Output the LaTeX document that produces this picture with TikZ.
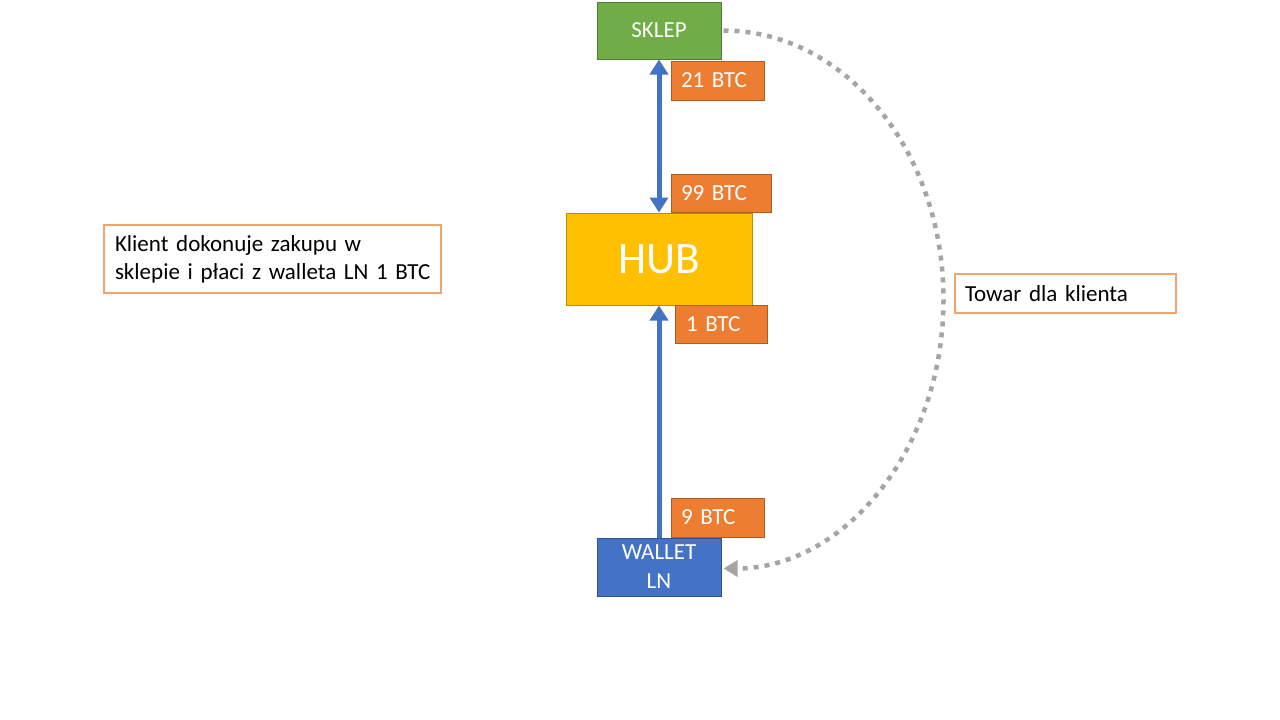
\documentclass[tikz,border=0pt]{standalone}
\usepackage{fontspec}
\setmainfont{Carlito}
\usetikzlibrary{arrows.meta}
\definecolor{cgreen}{HTML}{70AD47}
\definecolor{cgreend}{HTML}{507E32}
\definecolor{corange}{HTML}{ED7D31}
\definecolor{corangedk}{HTML}{AE5A21}
\definecolor{cyellow}{HTML}{FFC000}
\definecolor{cyellowd}{HTML}{BC8C00}
\definecolor{cblue}{HTML}{4472C4}
\definecolor{cblued}{HTML}{2F528F}
\definecolor{cgrey}{HTML}{A5A5A5}
\tikzset{
  mainbox/.style={draw=#1, line width=1pt, rectangle, inner sep=0pt, text=white, align=center},
  btcbox/.style={draw=corangedk, fill=corange, line width=1pt, rectangle, inner sep=0pt,
    text=white, align=left, font=\fontsize{23}{27}\selectfont},
  notebox/.style={draw=corange!70, fill=white, line width=1.3pt, rectangle, inner sep=0pt,
    text=black, align=left, font=\fontsize{23}{28}\selectfont},
  flow/.style={draw=cblue, line width=5pt},
  dotconn/.style={draw=cgrey, line width=4.5pt, dash pattern=on 5pt off 6pt}
}
\begin{document}
\begin{tikzpicture}[x=1pt,y=-1pt]
\useasboundingbox[fill=white] (0,0) rectangle (1280,720);

\node[mainbox=cgreend, fill=cgreen, minimum width=124pt, minimum height=57pt,
  font=\fontsize{23}{27}\selectfont] (sklep) at (659,30.5) {SKLEP};
\node[mainbox=cyellowd, fill=cyellow, minimum width=186pt, minimum height=92pt,
  font=\fontsize{45}{50}\selectfont] (hub) at (659,259) {HUB};
\node[mainbox=cblued, fill=cblue, minimum width=124pt, minimum height=58pt,
  font=\fontsize{23}{29}\selectfont] (wallet) at (659,567) {WALLET\\LN};

\node[btcbox, minimum width=93pt, minimum height=39pt, text width=73pt] (b21) at (717.5,80.5) {21 BTC};
\node[btcbox, minimum width=100pt, minimum height=38pt, text width=80pt] (b99) at (721,193) {99 BTC};
\node[btcbox, minimum width=92pt, minimum height=38pt, text width=70pt] (b1) at (721,324) {1 BTC};
\node[btcbox, minimum width=93pt, minimum height=39pt, text width=73pt] (b9) at (717.5,517.5) {9 BTC};

\node[notebox, minimum width=337pt, minimum height=68pt, text width=315pt] (note) at (272.5,259)
  {\mbox{Klient dokonuje zakupu w}\\\mbox{sklepie i płaci z walleta LN 1 BTC}};
\node[notebox, minimum width=221pt, minimum height=39pt, text width=201pt] (towar) at (1065.5,293.5)
  {Towar dla klienta};

\draw[flow, {Triangle[width=18pt,length=15pt]}-{Triangle[width=18pt,length=15pt]}] (sklep) -- (hub);
\draw[flow, -{Triangle[width=18pt,length=15pt]}] (wallet) -- (hub);

\draw[dotconn, -{Triangle[width=16pt,length=14pt,sep=0pt]}]
  ([xshift=2pt]sklep.east) arc[start angle=-90, end angle=90, x radius=220, y radius=269];
\end{tikzpicture}
\end{document}
